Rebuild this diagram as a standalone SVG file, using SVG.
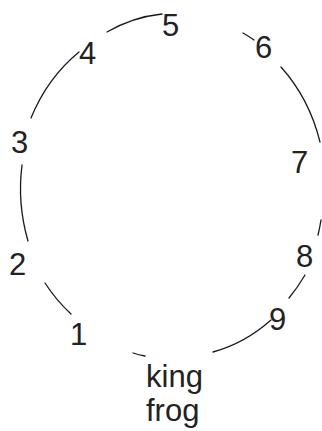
<svg xmlns="http://www.w3.org/2000/svg" width="322" height="431" viewBox="0 0 322 431">
<style>
.bg{fill:#ffffff}
.arc{fill:none;stroke:#1a1a1a;stroke-width:1.3;stroke-linecap:round}
.lbl{font-family:"Liberation Sans",Arial,sans-serif;font-size:31px;fill:#222222}
</style>
<rect class="bg" x="0" y="0" width="322" height="431"/>
<g id="connectors">
<path class="arc" d="M31,118 A151,169 0 0 1 79,52"/>
<path class="arc" d="M107,32 A151,169 0 0 1 162,14"/>
<path class="arc" d="M243,33 A151,169 0 0 1 254,40"/>
<path class="arc" d="M281,67 A151,169 0 0 1 320,142"/>
<path class="arc" d="M321,220 A151,169 0 0 1 318,235"/>
<path class="arc" d="M305,275 A151,169 0 0 1 289,298"/>
<path class="arc" d="M271,320 A151,169 0 0 1 213,352"/>
<path class="arc" d="M145,356 A151,169 0 0 1 133,353"/>
<path class="arc" d="M71,314 A151,169 0 0 1 45,283"/>
<path class="arc" d="M28,241 A151,169 0 0 1 22,165"/>
</g>
<g id="n5"><text class="lbl" x="162" y="36">5</text></g>
<g id="n4"><text class="lbl" x="79" y="64">4</text></g>
<g id="n3"><text class="lbl" x="11" y="153">3</text></g>
<g id="n2"><text class="lbl" x="9" y="275">2</text></g>
<g id="n1"><text class="lbl" x="70" y="345">1</text></g>
<g id="n6"><text class="lbl" x="255" y="58">6</text></g>
<g id="n7"><text class="lbl" x="291" y="173">7</text></g>
<g id="n8"><text class="lbl" x="296" y="267">8</text></g>
<g id="n9"><text class="lbl" x="269" y="330">9</text></g>
<g id="center"><text class="lbl" x="146" y="387">king</text><text class="lbl" x="146" y="421">frog</text></g>
</svg>
